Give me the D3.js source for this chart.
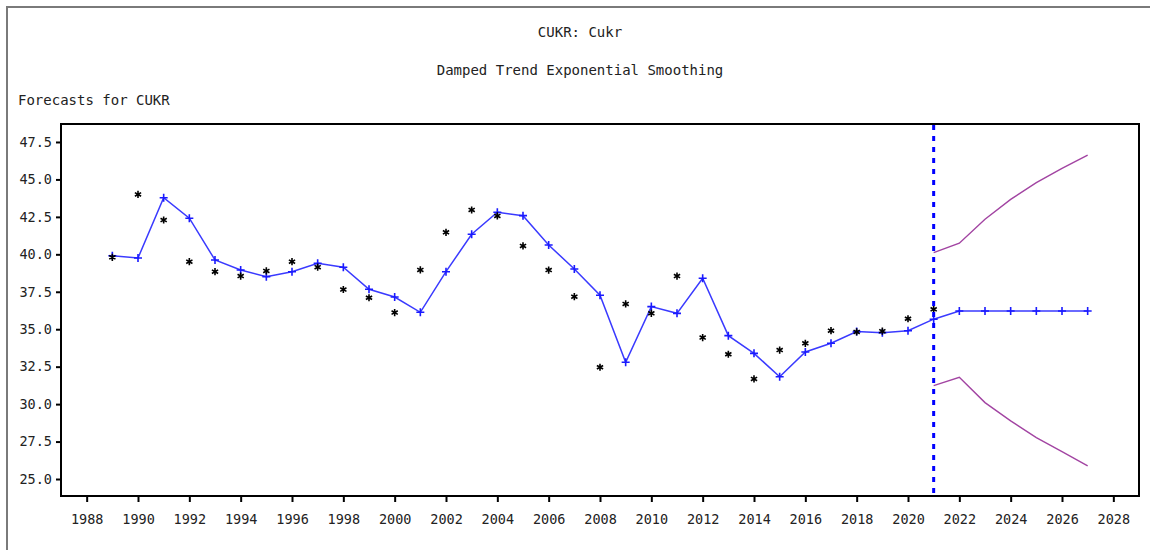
<!DOCTYPE html>
<html>
<head>
<meta charset="utf-8">
<script src="https://cdn.jsdelivr.net/npm/d3@7"></script>
<style>
  html, body { margin: 0; padding: 0; background: #fff; }
  svg { display: block; }
  text { font-family: "DejaVu Sans Mono", "Liberation Mono", monospace; fill: #222; }
</style>
</head>
<body>
<svg id="chart" width="1150" height="550"></svg>
<script>
// ---- data ----
const titleMain = "CUKR: Cukr";
const titleSub = "Damped Trend Exponential Smoothing";
const yLabel = "Forecasts for CUKR";

const histYears = [1989,1990,1991,1992,1993,1994,1995,1996,1997,1998,1999,2000,2001,2002,2003,2004,2005,2006,2007,2008,2009,2010,2011,2012,2013,2014,2015,2016,2017,2018,2019,2020,2021];
const actual = [39.80,44.00,42.29,39.51,38.84,38.55,38.89,39.51,39.14,37.65,37.10,36.11,38.96,41.47,42.96,42.56,40.56,38.95,37.17,32.46,36.69,36.06,38.55,34.44,33.33,31.68,33.61,34.06,34.90,34.82,34.87,35.70,36.33];
const fitted = [39.90,39.75,43.78,42.41,39.62,38.95,38.51,38.84,39.40,39.14,37.67,37.15,36.13,38.84,41.34,42.81,42.58,40.62,39.02,37.27,32.79,36.51,36.06,38.40,34.57,33.39,31.83,33.48,34.06,34.84,34.77,34.90,35.67];

const fcYears = [2022,2023,2024,2025,2026,2027];
const forecast = [36.22,36.22,36.22,36.22,36.22,36.22];

const bandYears = [2021,2022,2023,2024,2025,2026,2027];
const upper = [40.11,40.74,42.34,43.67,44.78,45.74,46.63];
const lower = [31.23,31.79,30.10,28.88,27.76,26.83,25.87];

const forecastOrigin = 2021;

const xTicks = [1988,1990,1992,1994,1996,1998,2000,2002,2004,2006,2008,2010,2012,2014,2016,2018,2020,2022,2024,2026,2028];
const yTicks = [25.0,27.5,30.0,32.5,35.0,37.5,40.0,42.5,45.0,47.5];

// ---- layout ----
const plot = { left: 61, top: 124, right: 1139, bottom: 496 };
const svg = d3.select("#chart");

// outer frame (top + left visible)
svg.append("rect")
  .attr("x", 7).attr("y", 7).attr("width", 1300).attr("height", 700)
  .attr("fill", "none").attr("stroke", "#7a7a7a").attr("stroke-width", 2);

const x = d3.scaleLinear().domain([1987, 2029]).range([plot.left, plot.right]);
const y = d3.scaleLinear().domain([23.866, 48.70]).range([plot.bottom, plot.top]);

// titles
svg.append("text").attr("x", 580).attr("y", 32).attr("text-anchor", "middle")
  .attr("dominant-baseline", "central").style("font-size", "14px").text(titleMain);
svg.append("text").attr("x", 580).attr("y", 70).attr("text-anchor", "middle")
  .attr("dominant-baseline", "central").style("font-size", "14px").text(titleSub);
svg.append("text").attr("x", 18).attr("y", 100).attr("text-anchor", "start")
  .attr("dominant-baseline", "central").style("font-size", "14px").text(yLabel);

// axes
const yAxis = d3.axisLeft(y).tickValues(yTicks).tickFormat(d3.format(".1f")).tickSize(5).tickPadding(4);
const gy = svg.append("g").attr("transform", `translate(${plot.left},0)`).call(yAxis);
gy.select(".domain").remove();
gy.selectAll(".tick line").attr("stroke", "#000").attr("stroke-width", 2);
gy.selectAll(".tick text").style("font-size", "13.5px").style("font-family", "DejaVu Sans Mono, monospace").attr("fill", "#222");

const xAxis = d3.axisBottom(x).tickValues(xTicks).tickFormat(d3.format("d")).tickSize(6).tickPadding(12);
const gx = svg.append("g").attr("transform", `translate(0,${plot.bottom})`).call(xAxis);
gx.select(".domain").remove();
gx.selectAll(".tick line").attr("stroke", "#000").attr("stroke-width", 2);
gx.selectAll(".tick text").style("font-size", "13.5px").style("font-family", "DejaVu Sans Mono, monospace").attr("fill", "#222");

// plot frame
svg.append("rect")
  .attr("x", plot.left).attr("y", plot.top)
  .attr("width", plot.right - plot.left).attr("height", plot.bottom - plot.top)
  .attr("fill", "none").attr("stroke", "#000").attr("stroke-width", 2);

const line = d3.line().x(d => x(d[0])).y(d => y(d[1]));

// confidence bounds
const upperPts = bandYears.map((yr, i) => [yr, upper[i]]);
const lowerPts = bandYears.map((yr, i) => [yr, lower[i]]);
[upperPts, lowerPts].forEach(pts => {
  svg.append("path").attr("d", line(pts)).attr("fill", "none")
    .attr("stroke", "#a244a2").attr("stroke-width", 1.4);
});

// fitted + forecast line
const fitPts = histYears.map((yr, i) => [yr, fitted[i]])
  .concat(fcYears.map((yr, i) => [yr, forecast[i]]));
svg.append("path").attr("d", line(fitPts)).attr("fill", "none")
  .attr("stroke", "#3a3aff").attr("stroke-width", 1.5);

// plus markers
const plusPath = "M-4,0H4M0,-4V4";
svg.append("g").selectAll("path.plus").data(fitPts).join("path")
  .attr("class", "plus")
  .attr("transform", d => `translate(${x(d[0])},${y(d[1])})`)
  .attr("d", plusPath).attr("stroke", "#1a1aff").attr("stroke-width", 1.6).attr("fill", "none");

// actual values as asterisks
const r = 3.6, c = r * Math.cos(Math.PI / 6), s = r * Math.sin(Math.PI / 6);
const starPath = `M0,${-r}V${r}M${-c},${-s}L${c},${s}M${-c},${s}L${c},${-s}`;
const actPts = histYears.map((yr, i) => [yr, actual[i]]);
svg.append("g").selectAll("path.star").data(actPts).join("path")
  .attr("class", "star")
  .attr("transform", d => `translate(${x(d[0])},${y(d[1])})`)
  .attr("d", starPath).attr("stroke", "#000").attr("stroke-width", 1.6).attr("fill", "none");

// forecast origin dashed line
svg.append("line")
  .attr("x1", x(forecastOrigin)).attr("x2", x(forecastOrigin))
  .attr("y1", plot.top + 1).attr("y2", plot.bottom - 1)
  .attr("stroke", "#0000ff").attr("stroke-width", 3).attr("stroke-dasharray", "5,6");
</script>
</body>
</html>
